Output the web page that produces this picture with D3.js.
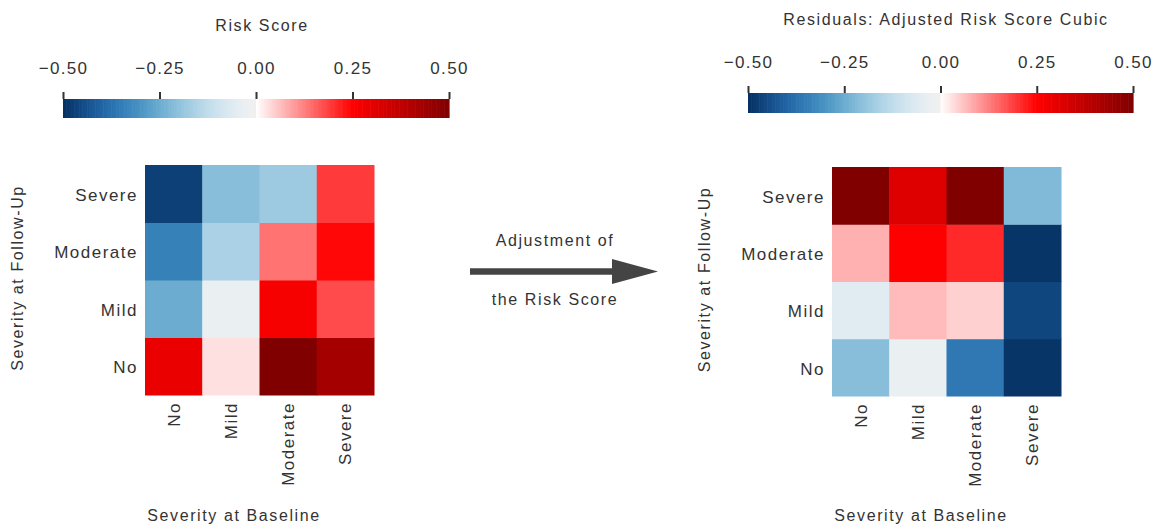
<!DOCTYPE html>
<html>
<head>
<meta charset="utf-8">
<script src="https://cdn.jsdelivr.net/npm/d3@7"></script>
<style>
  html, body { margin: 0; padding: 0; background: #fff; }
  svg { display: block; }
  text { font-family: "Liberation Sans", Arial, sans-serif; fill: #333; }
</style>
</head>
<body>
<svg id="chart" width="1160" height="525"></svg>
<script>
// ---------- data ----------
const categories = ["No", "Mild", "Moderate", "Severe"];          // baseline (x) and follow-up (y)
// rows = severity at follow-up (No, Mild, Moderate, Severe); columns = severity at baseline
const riskScoreNo       = [0.29, 0.03, 0.50, 0.43];
const riskScoreMild     = [-0.25, -0.03, 0.266, 0.176];
const riskScoreModerate = [-0.34, -0.16, 0.137, 0.243];
const riskScoreSevere   = [-0.47, -0.21, -0.18, 0.193];

const residNo       = [-0.21, -0.03, -0.36, -0.49];
const residMild     = [-0.058, 0.067, 0.046, -0.46];
const residModerate = [0.077, 0.25, 0.21, -0.49];
const residSevere   = [0.50, 0.315, 0.50, -0.22];

const colorTicks = [-0.5, -0.25, 0, 0.25, 0.5];
const leftTitle = "Risk Score";
const rightTitle = "Residuals: Adjusted Risk Score Cubic";
const xTitle = "Severity at Baseline";
const yTitle = "Severity at Follow-Up";
const arrowText = ["Adjustment of", "the Risk Score"];

const riskRows = [riskScoreNo, riskScoreMild, riskScoreModerate, riskScoreSevere];
const residRows = [residNo, residMild, residModerate, residSevere];

// ---------- colour map ----------
const posScale = d3.scaleLinear().domain([0, 0.25, 0.5]).range(["#ffffff", "#ff0000", "#800000"]).clamp(true);
function colorOf(v) {
  v = Math.max(-0.5, Math.min(0.5, v));
  if (v < 0) return d3.interpolateRdBu(0.5 - v);
  return posScale(v);
}

const svg = d3.select("#chart");
const fmt = d3.format(".2f");

function drawPanel(cfg) {
  // colour bar
  const cx = d3.scaleLinear().domain([-0.5, 0.5]).range([cfg.cbX0, cfg.cbX1]);
  const steps = d3.range(-0.5, 0.5, 1 / 240);
  const cb = svg.append("g");
  cb.selectAll("rect").data(steps).join("rect")
    .attr("x", d => cx(d))
    .attr("y", cfg.cbY)
    .attr("width", (cx(1 / 240) - cx(0)) + 0.6)
    .attr("height", cfg.cbH)
    .attr("fill", d => colorOf(d + 1 / 480));
  const axis = d3.axisTop(cx).tickValues(colorTicks).tickFormat(fmt).tickSize(7).tickPadding(18);
  const ag = svg.append("g").attr("transform", `translate(0,${cfg.cbY})`).call(axis);
  ag.select(".domain").remove();
  ag.selectAll(".tick line").attr("stroke", "#333").attr("stroke-width", 2);
  ag.selectAll(".tick text").attr("font-size", 17).attr("letter-spacing", "1.3px")
    .attr("fill", "#333").style("font-family", '"Liberation Sans", Arial, sans-serif');

  svg.append("text").attr("x", cfg.titleX).attr("y", cfg.titleY)
    .attr("text-anchor", "middle").attr("font-size", 16).attr("letter-spacing", "1.6px")
    .text(cfg.title);

  // heatmap
  const x = d3.scaleBand().domain(categories).range([cfg.hx0, cfg.hx1]);
  const y = d3.scaleBand().domain(categories).range([cfg.hy1, cfg.hy0]);
  const cells = [];
  cfg.rows.forEach((row, i) => row.forEach((v, j) => cells.push({ fu: categories[i], bl: categories[j], v })));
  svg.append("g").selectAll("rect").data(cells).join("rect")
    .attr("x", d => x(d.bl))
    .attr("y", d => y(d.fu))
    .attr("width", x.bandwidth() + 0.5)
    .attr("height", y.bandwidth() + 0.5)
    .attr("fill", d => colorOf(d.v));

  // y tick labels
  svg.append("g").selectAll("text").data(categories).join("text")
    .attr("x", cfg.hx0 - 7)
    .attr("y", d => y(d) + y.bandwidth() / 2)
    .attr("dy", "0.42em")
    .attr("text-anchor", "end")
    .attr("font-size", 17).attr("letter-spacing", "1.5px")
    .text(d => d);

  // x tick labels (rotated)
  svg.append("g").selectAll("text").data(categories).join("text")
    .attr("transform", d => `translate(${x(d) + x.bandwidth() / 2},${cfg.hy1 + 7}) rotate(-90)`)
    .attr("dy", "0.35em")
    .attr("text-anchor", "end")
    .attr("font-size", 17).attr("letter-spacing", "1.5px")
    .text(d => d);

  // axis titles
  svg.append("text").attr("x", cfg.xTitleX).attr("y", 521)
    .attr("text-anchor", "middle").attr("font-size", 16).attr("letter-spacing", "1.6px")
    .text(xTitle);
  svg.append("text")
    .attr("transform", `translate(${cfg.yTitleX},${(cfg.hy0 + cfg.hy1) / 2 - 2}) rotate(-90)`)
    .attr("text-anchor", "middle").attr("font-size", 16).attr("letter-spacing", "1.6px")
    .text(yTitle);
}

drawPanel({
  rows: riskRows, title: leftTitle, titleX: 262, titleY: 31,
  cbX0: 63, cbX1: 449, cbY: 99, cbH: 19,
  hx0: 145, hx1: 374, hy0: 165, hy1: 395,
  xTitleX: 234, yTitleX: 23
});
drawPanel({
  rows: residRows, title: rightTitle, titleX: 946, titleY: 25,
  cbX0: 748, cbX1: 1133, cbY: 93, cbH: 20,
  hx0: 832, hx1: 1061, hy0: 167, hy1: 396,
  xTitleX: 921, yTitleX: 710
});

// ---------- arrow annotation ----------
const ag = svg.append("g");
ag.append("line").attr("x1", 470).attr("y1", 271.5).attr("x2", 614).attr("y2", 271.5)
  .attr("stroke", "#444").attr("stroke-width", 6.5);
ag.append("path").attr("d", "M612,259 L658,271.5 L612,284 Z").attr("fill", "#444");
ag.append("text").attr("x", 555).attr("y", 246).attr("text-anchor", "middle")
  .attr("font-size", 16).attr("letter-spacing", "1.6px").text(arrowText[0]);
ag.append("text").attr("x", 555).attr("y", 305).attr("text-anchor", "middle")
  .attr("font-size", 16).attr("letter-spacing", "1.6px").text(arrowText[1]);
</script>
</body>
</html>
